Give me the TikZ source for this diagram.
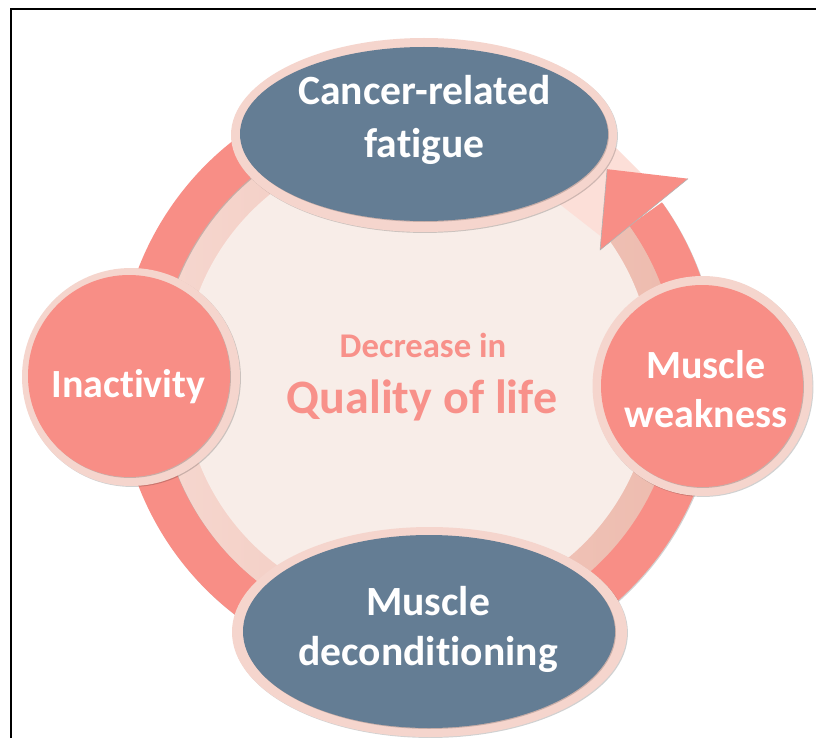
\documentclass[tikz,border=0pt]{standalone}
\usepackage{fontspec}
\setmainfont{Carlito}[RawFeature={-liga;-clig;-calt;-dlig}]
\usetikzlibrary{shapes.geometric,shadows}
\definecolor{salmon}{HTML}{F88E86}
\definecolor{darkc}{HTML}{647D94}
\definecolor{rimc}{HTML}{F5D5CD}
\definecolor{cream}{HTML}{F8EDE8}
\definecolor{bandL}{HTML}{F6D7CF}
\definecolor{bandR}{HTML}{EDBBAE}
\definecolor{lpink}{HTML}{FCDFD8}
\definecolor{txtsal}{HTML}{F8918A}
\begin{document}
\begin{tikzpicture}[x=0.75pt,y=-0.75pt,
  shad/.style={drop shadow={shadow xshift=0.7pt,shadow yshift=-0.7pt,opacity=0.18,fill=black}},
  rim/.style={fill=rimc,draw=none,inner sep=0pt},
  lbl/.style={anchor=base,text=white,inner sep=0pt,font=\bfseries\fontsize{31.2}{36}\selectfont},
  ctr/.style={anchor=base,text=txtsal,inner sep=0pt}]
\useasboundingbox (0,0) rectangle (816,738);
\fill[white] (0,0) rectangle (816,738);
\draw[line width=1.2pt] (11,738) -- (11,9) -- (816,9);

% central disc and ring
\begin{scope}[shift={(418,377)}]
  \shade[left color=bandL,right color=bandR] (0,0) circle[radius=262];
  \fill[cream] (0,0) circle[radius=235];
\end{scope}
\fill[lpink] (548,195) -- (603,238) -- (650,182) -- (617,149) -- (585,125) -- cycle;
\begin{scope}[shift={(418,377)}]
  \fill[salmon,shad] (250:300) arc[start angle=250,end angle=-35.6,radius=300]
     -- (-35.6:260) arc[start angle=-35.6,end angle=250,radius=260] -- cycle;
  \coordinate (tipA) at (-36.3:335);
  \coordinate (tipB) at (-47.7:281);
  \coordinate (tipC) at (-34.9:222);
  \fill[salmon] (tipA) -- (tipB) -- (tipC) -- cycle;
  \draw[black!30,line width=0.45pt,line join=round] (tipB) -- (tipC) -- (tipA);
\end{scope}

% nodes
\node[ellipse,rim,minimum width=289.5pt,minimum height=145.5pt,shad] (fatigue) at (424,135) {};
\fill[darkc,shad] (424,134) ellipse[x radius=184,y radius=87];

\node[ellipse,rim,minimum width=296.25pt,minimum height=157.5pt,shad] (deco) at (429.5,632) {};
\fill[darkc,shad] (429,631.5) ellipse[x radius=186,y radius=96.5];

\node[circle,rim,minimum size=163.5pt,shad] (inact) at (131,377) {};
\fill[salmon,shad] (129,376) circle[radius=101];

\node[circle,rim,minimum size=165pt,shad] (weak) at (702.5,386) {};
\fill[salmon,shad] (702,386) circle[radius=101];

% texts
\node[lbl] (t1) at (424.5,105) {Cancer-related};
\node[lbl] (t2) at (424.5,157) {fatigue};
\node[lbl] (t3) at (428,615) {Muscle};
\node[lbl] (t4) at (428,665) {decondit\kern0pt ioning};
\node[lbl,font=\bfseries\fontsize{30}{36}\selectfont] (t5) at (128.5,397) {Inact\kern0pt ivity};
\node[lbl,font=\bfseries\fontsize{30}{36}\selectfont] (t6) at (706,378) {Muscle};
\node[lbl,font=\bfseries\fontsize{30}{36}\selectfont] (t7) at (706,427) {weakness};
\node[ctr,font=\bfseries\fontsize{26}{30}\selectfont] (t8) at (423,357) {Decrease in};
\node[ctr,font=\bfseries\fontsize{36}{40}\selectfont] (t9) at (422,413) {Quality of life};
\end{tikzpicture}
\end{document}
